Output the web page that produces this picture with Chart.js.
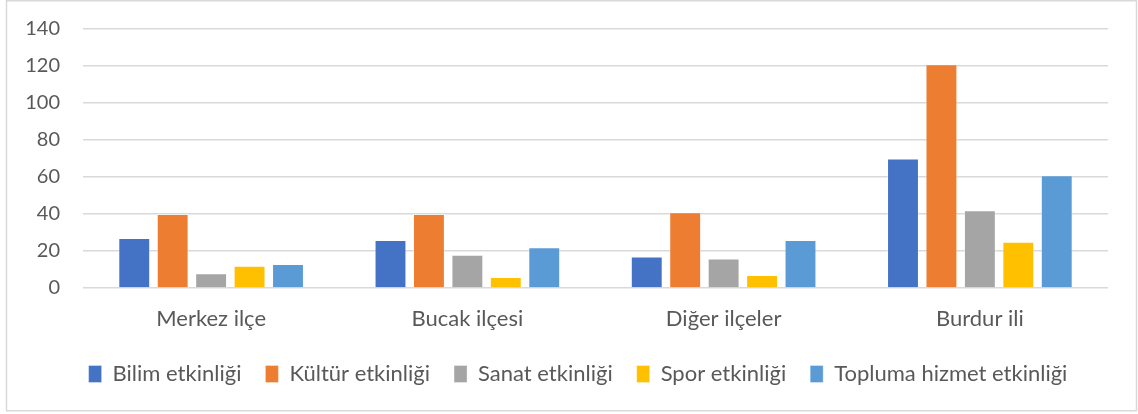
<!DOCTYPE html>
<html>
<head>
<meta charset="utf-8">
<script src="https://cdn.jsdelivr.net/npm/chart.js@4.4.1/dist/chart.umd.min.js"></script>
<style>
  html, body { margin: 0; padding: 0; background: #fff; }
  #wrap { position: relative; width: 1138px; height: 414px; }
  canvas { display: block; }
</style>
</head>
<body>
<div id="wrap"><canvas id="c" width="1138" height="414"></canvas></div>
<script>
// Etkinlik sayıları, bölgelere göre
const categories = ['Merkez ilçe', 'Bucak ilçesi', 'Diğer ilçeler', 'Burdur ili'];
const seriesNames = ['Bilim etkinliği', 'Kültür etkinliği', 'Sanat etkinliği', 'Spor etkinliği', 'Topluma hizmet etkinliği'];
const bilim = [27, 26, 17, 70];
const kultur = [40, 40, 41, 121];
const sanat = [8, 18, 16, 42];
const spor = [12, 6, 7, 25];
const topluma = [13, 22, 26, 61];
const yTicks = [0, 20, 40, 60, 80, 100, 120, 140];

const colors = ['#4472C4', '#ED7D31', '#A5A5A5', '#FFC000', '#5B9BD5'];
const seriesValues = [bilim, kultur, sanat, spor, topluma];

const FONT = 'Lato, "Open Sans", sans-serif';
const TEXT = '#595959';

// light frame drawn round the whole chart
const framePlugin = {
  id: 'frame',
  beforeDraw(chart) {
    const ctx = chart.ctx;
    ctx.save();
    ctx.fillStyle = '#fff';
    ctx.fillRect(0, 0, chart.width, chart.height);
    ctx.strokeStyle = '#d9d9d9';
    ctx.lineWidth = 1.5;
    ctx.strokeRect(6.5, 0.75, 1130, 410);
    ctx.restore();
  }
};

new Chart(document.getElementById('c'), {
  type: 'bar',
  data: {
    labels: categories,
    datasets: seriesNames.map((name, i) => ({
      label: name,
      data: seriesValues[i],
      backgroundColor: colors[i],
      borderColor: 'rgba(255,255,255,0.35)',
      borderWidth: 1,
      categoryPercentage: 0.75,
      barPercentage: 0.83
    }))
  },
  options: {
    responsive: false,
    animation: false,
    layout: { padding: { left: 24, right: 6, top: 29, bottom: 19 } },
    plugins: {
      tooltip: { enabled: false },
      legend: {
        position: 'bottom',
        labels: {
          font: { family: FONT, size: 22 },
          color: TEXT,
          boxWidth: 13,
          boxHeight: 17,
          padding: 24
        }
      }
    },
    scales: {
      x: {
        grid: { display: false, drawTicks: false },
        border: { display: false },
        ticks: { font: { family: FONT, size: 22 }, color: TEXT, padding: 18 },
        afterFit(scale) { scale.height = 51; }
      },
      y: {
        min: 0,
        max: 140,
        afterBuildTicks(scale) { scale.ticks = yTicks.map(v => ({ value: v })); },
        grid: { color: '#d9d9d9', lineWidth: 1.5, drawTicks: false },
        border: { display: false },
        ticks: { font: { family: FONT, size: 20 }, color: TEXT, padding: 23 },
        afterFit(scale) {
          scale.width = 59;
          scale.paddingTop = 0;
          scale.paddingBottom = 0;
        }
      },
      // empty right-hand margin so the plot ends where the gridlines stop
      yRight: {
        position: 'right',
        grid: { display: false, drawTicks: false },
        border: { display: false },
        ticks: { display: false },
        afterFit(scale) {
          scale.width = 24;
          scale.paddingTop = 0;
          scale.paddingBottom = 0;
        }
      }
    }
  },
  plugins: [framePlugin]
});
</script>
</body>
</html>
